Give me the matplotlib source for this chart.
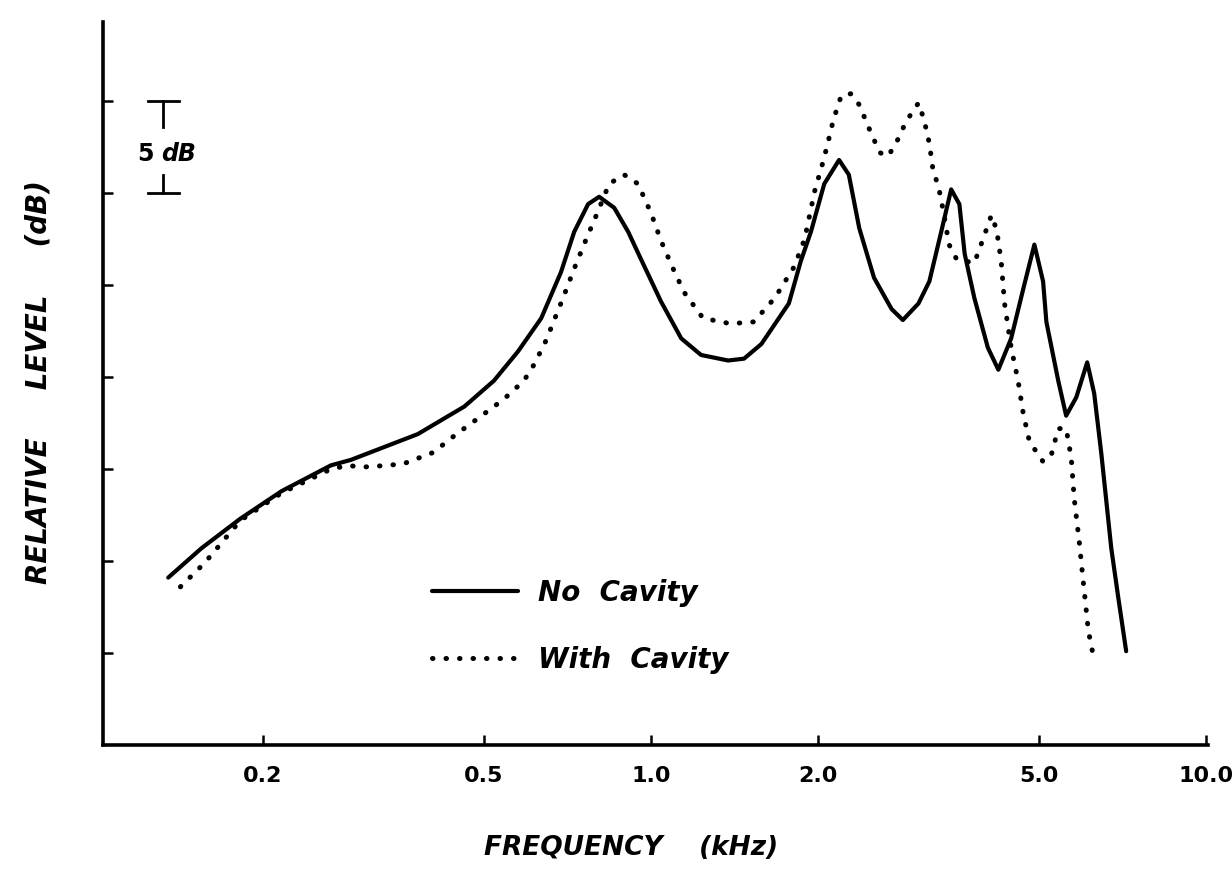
import matplotlib

matplotlib.use("Agg")
import matplotlib.pyplot as plt

plt.rcParams["font.family"] = ["DejaVu Sans"]

# frekans (kHz) ve bagil seviye (dB)
f_no = [0.135, 0.155, 0.182, 0.216, 0.265, 0.288, 0.380, 0.461, 0.521, 0.576, 0.634, 0.688,
        0.727, 0.770, 0.806, 0.858, 0.909, 0.959, 1.042, 1.133, 1.23, 1.376, 1.47, 1.58,
        1.77, 1.86, 1.94, 2.05, 2.18, 2.27, 2.37, 2.52, 2.71, 2.84, 3.03, 3.17, 3.33, 3.47,
        3.59, 3.67, 3.82, 4.04, 4.22, 4.45, 4.68, 4.90, 5.08, 5.15, 5.41, 5.59, 5.83, 6.10,
        6.28, 6.47, 6.74, 6.94, 7.17]
db_no = [9.1, 10.7, 12.3, 13.8, 15.2, 15.5, 16.9, 18.4, 19.8, 21.4, 23.2, 25.7,
         27.9, 29.4, 29.8, 29.2, 27.9, 26.4, 24.1, 22.1, 21.2, 20.9, 21.0, 21.8,
         24.0, 26.3, 27.9, 30.5, 31.8, 31.0, 28.1, 25.4, 23.7, 23.1, 24.0, 25.2, 27.9, 30.2,
         29.4, 26.7, 24.3, 21.6, 20.4, 22.1, 24.8, 27.2, 25.2, 23.0, 19.8, 17.9, 18.9, 20.8,
         19.1, 15.8, 10.7, 8.0, 5.1]

f_cav = [0.142, 0.157, 0.182, 0.216, 0.265, 0.285, 0.30, 0.336, 0.359, 0.405, 0.446, 0.490,
         0.543, 0.590, 0.616, 0.647, 0.694, 0.727, 0.764, 0.802, 0.840, 0.894, 0.947, 1.0,
         1.042, 1.095, 1.147, 1.24, 1.39, 1.53, 1.67, 1.81, 1.89, 1.97, 2.04, 2.08, 2.13,
         2.20, 2.29, 2.37, 2.47, 2.58, 2.67, 2.76, 2.88, 3.03, 3.10, 3.17, 3.22, 3.29, 3.36,
         3.44, 3.55, 3.82, 3.96, 4.10, 4.19, 4.27, 4.33, 4.45, 4.58, 4.68, 4.80, 5.08, 5.26,
         5.41, 5.59, 5.71, 5.78, 5.90, 6.00, 6.13, 6.28]
db_cav = [8.6, 9.9, 12.2, 13.7, 15.0, 15.2, 15.1, 15.2, 15.3, 15.9, 16.9, 17.8,
          18.8, 19.8, 20.7, 22.0, 24.3, 25.9, 27.5, 29.0, 30.5, 31.0, 30.5, 28.9,
          27.4, 25.9, 24.6, 23.2, 22.9, 23.0, 24.3, 26.0, 27.5, 30.1, 31.7, 32.7, 34.0,
          35.3, 35.4, 34.8, 33.5, 32.2, 32.0, 32.7, 33.9, 34.9, 34.0, 32.7, 31.2, 30.4, 29.0,
          27.2, 26.4, 26.2, 27.5, 28.8, 28.0, 26.3, 24.0, 21.6, 19.8, 18.0, 16.5, 15.4, 15.8,
          17.2, 17.2, 15.6, 13.4, 11.1, 8.9, 6.2, 4.6]

xticks = [0.2, 0.5, 1.0, 2.0, 5.0, 10.0]
xticklabels = ["0.2", "0.5", "1.0", "2.0", "5.0", "10.0"]
yticks = [5, 10, 15, 20, 25, 30, 35]

fig = plt.figure(figsize=(12.32, 8.72), dpi=100)
ax = fig.add_axes([0.0836, 0.1456, 0.8966, 0.8292])

ax.plot(f_no, db_no, color="black", lw=3.0, solid_capstyle="round",
        solid_joinstyle="round", label="No  Cavity")
ax.plot(f_cav, db_cav, color="black", lw=3.6, linestyle=(0, (0.1, 2.6)),
        dash_capstyle="round", label="With  Cavity")

ax.set_xscale("log")
ax.set_xlim(0.103, 10.05)
ax.set_ylim(0, 39.3)
ax.set_xticks(xticks)
ax.set_xticklabels(xticklabels, fontsize=16, fontweight="bold")
ax.minorticks_off()
ax.set_yticks(yticks)
ax.set_yticklabels([])
ax.tick_params(direction="in", length=7, width=1.8, pad=15)

for s in ["top", "right"]:
    ax.spines[s].set_visible(False)
for s in ["left", "bottom"]:
    ax.spines[s].set_linewidth(2.6)

ax.set_xlabel("FREQUENCY    (kHz)", fontsize=19, fontweight="bold", style="italic")
ax.xaxis.set_label_coords(0.478, -0.124)
ax.set_ylabel("RELATIVE     LEVEL     (dB)", fontsize=20, fontweight="bold", style="italic")
ax.yaxis.set_label_coords(-0.046, 0.502)

# 5 dB olcek cubugu
xb = 0.132
ax.plot([0.124, 0.141], [35, 35], color="black", lw=2)
ax.plot([xb, xb], [35, 33.6], color="black", lw=2)
ax.plot([xb, xb], [31.0, 30], color="black", lw=2)
ax.plot([0.124, 0.141], [30, 30], color="black", lw=2)
ax.text(0.1186, 32.1, "5", fontsize=17, fontweight="bold", ha="left", va="center")
ax.text(0.1311, 32.1, "dB", fontsize=17, fontweight="bold", style="italic", ha="left", va="center")

leg = ax.legend(loc="lower left", bbox_to_anchor=(0.2755, 0.064), frameon=False,
                handlelength=3.1, handletextpad=0.7, labelspacing=1.4,
                prop={"size": 20, "weight": "bold", "style": "italic"})

fig.savefig("out.png", dpi=100)
